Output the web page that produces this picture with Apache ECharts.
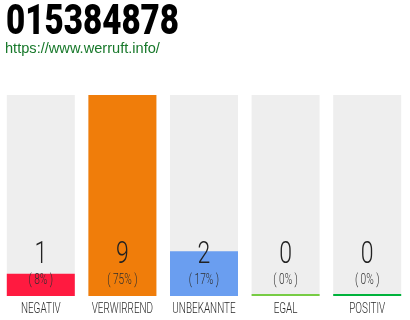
<!DOCTYPE html>
<html>
<head>
<meta charset="utf-8">
<script src="https://cdn.jsdelivr.net/npm/echarts@6/dist/echarts.min.js"></script>
<style>
  html, body { margin: 0; padding: 0; background: #fff; }
  #chart { width: 410px; height: 320px; }
</style>
</head>
<body>
<div id="chart"></div>
<script>
// Rating summary for one phone number
const phoneNumber = '015384878';
const siteUrl = 'https://www.werruft.info/';
const categories = ['NEGATIV', 'VERWIRREND', 'UNBEKANNTE', 'EGAL', 'POSITIV'];
const counts = [1, 9, 2, 0, 0];
const barColors = ['#ff1a40', '#f07d0a', '#6a9ef0', '#77cc44', '#00b33c'];

const total = counts.reduce((a, b) => a + b, 0);
const percents = counts.map(v => total ? Math.round(v / total * 100) : 0);

const FONT = 'Roboto, "Liberation Sans", sans-serif';

// count, percentage and category name stacked under each column
function renderLabels(params, api) {
  const i = api.value(0);
  const pt = api.coord([i, 0]);
  const cx = pt[0], base = pt[1];
  const txt = (text, dy, size, squeeze, color) => ({
    type: 'text',
    x: cx, y: base + dy,
    scaleX: squeeze,
    style: {
      text: text, x: 0, y: 0,
      align: 'center', verticalAlign: 'middle',
      fontFamily: FONT, fontSize: size, fontWeight: 300, fill: color
    }
  });
  return {
    type: 'group',
    children: [
      txt(String(counts[i]), -41, 32, 0.72, '#222'),
      txt('( ' + percents[i] + '% )', -15.5, 14.5, 0.7, '#2e2e2e'),
      txt(categories[i], 13, 14.6, 0.68, '#2a2a2a')
    ]
  };
}

const chart = echarts.init(document.getElementById('chart'), null, { renderer: 'canvas' });
chart.setOption({
  animation: false,
  graphic: [
    {
      type: 'text', x: 6, y: 23, scaleX: 0.79,
      style: {
        text: phoneNumber, x: 0, y: 0, verticalAlign: 'middle',
        fontFamily: FONT, fontWeight: 900, fontSize: 42, fill: '#000'
      }
    },
    {
      type: 'text', x: 5, y: 49,
      style: {
        text: siteUrl, x: 0, y: 0, verticalAlign: 'middle',
        fontFamily: '"Liberation Sans", Arial, sans-serif', fontSize: 14.6, fill: '#17782a'
      }
    }
  ],
  grid: { left: -2, width: 410, top: 95, bottom: 24 },
  xAxis: {
    type: 'category',
    data: categories,
    axisLine: { show: false },
    axisTick: { show: false },
    axisLabel: { show: false }
  },
  yAxis: { type: 'value', min: 0, max: Math.max(...counts), show: false },
  series: [
    {
      type: 'bar',
      data: counts.map((v, i) => ({ value: v, itemStyle: { color: barColors[i] } })),
      barWidth: 68,
      barMinHeight: 2,
      showBackground: true,
      backgroundStyle: { color: '#eeeeee' }
    },
    {
      type: 'custom',
      clip: false,
      silent: true,
      data: counts.map((v, i) => [i, v]),
      renderItem: renderLabels,
      z: 5
    }
  ]
});
</script>
</body>
</html>
